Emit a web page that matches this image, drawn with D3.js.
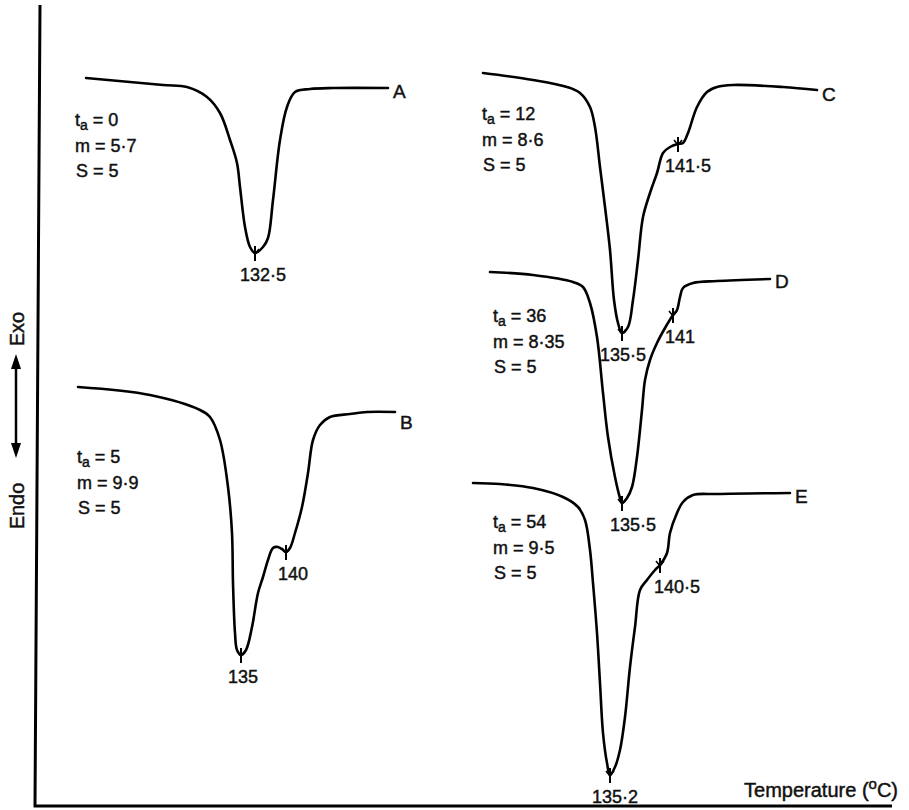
<!DOCTYPE html>
<html>
<head>
<meta charset="utf-8">
<script src="https://cdn.jsdelivr.net/npm/d3@7"></script>
<style>
  html, body { margin: 0; padding: 0; background: #fff; }
  svg text { font-family: "Liberation Sans", Arial, sans-serif; fill: #111; stroke: #111; stroke-width: 0.45px; }
</style>
</head>
<body>
<div id="d3"></div>
<script>
// DSC traces (arbitrary chart units, signal up = exo)
const curveIds = ["A", "B", "C", "D", "E"];

const posA = [51, 128, 152, 172, 185, 195, 202, 205, 210, 215, 220, 228, 233, 238, 245, 252, 260, 275, 298, 353];
const sigA = [728, 721, 719, 709, 693, 666, 643, 619, 579, 559, 553, 559, 568, 606, 666, 699, 714, 717, 718, 718];

const posB = [43, 115, 165, 175, 185, 193, 197, 198, 200, 202, 206, 211, 217, 223, 228, 233, 238, 243, 248, 251, 255, 260, 267, 273, 278, 285, 295, 315, 332, 360];
const sigB = [419, 411, 396, 389, 366, 319, 273, 223, 173, 156, 151, 156, 179, 213, 229, 246, 258, 259, 256, 254, 258, 273, 299, 333, 366, 381, 389, 392, 394, 394];

const posC = [448, 498, 532, 545, 555, 560, 565, 570, 575, 579, 583, 587, 593, 598, 603, 608, 615, 622, 628, 635, 643, 648, 653, 662, 672, 682, 698, 748, 782];
const sigC = [733, 726, 719, 713, 699, 679, 639, 599, 556, 506, 483, 473, 479, 506, 546, 589, 613, 633, 653, 659, 662, 663, 673, 699, 714, 719, 721, 719, 716];

const posD = [455, 498, 538, 548, 555, 562, 568, 573, 580, 585, 587, 592, 597, 602, 607, 610, 615, 622, 630, 638, 642, 645, 648, 658, 682, 735];
const sigD = [534, 531, 524, 519, 503, 469, 413, 369, 329, 308, 303, 308, 319, 349, 396, 426, 446, 463, 478, 491, 496, 509, 518, 523, 525, 527];

const posE = [438, 465, 498, 528, 543, 550, 555, 558, 562, 565, 568, 572, 575, 580, 585, 590, 595, 600, 605, 612, 620, 625, 632, 635, 642, 648, 658, 682, 755];
const sigE = [323, 322, 318, 309, 299, 286, 256, 223, 173, 123, 73, 43, 31, 39, 56, 89, 139, 179, 216, 226, 236, 241, 253, 273, 293, 304, 311, 312, 313];

// run conditions
const annealTime = ["0", "5", "12", "36", "54"];
const mValues = ["5·7", "9·9", "8·6", "8·35", "9·5"];
const sValues = ["5", "5", "5", "5", "5"];

// marked peak / shoulder temperatures
const peakCurve = ["A", "B", "B", "C", "C", "D", "D", "E", "E"];
const peakLabel = ["132·5", "135", "140", "135·5", "141·5", "135·5", "141", "135·2", "140·5"];
const peakPos = [220, 206, 251, 587, 643, 587, 638, 575, 625];
const peakSig = [553, 151, 254, 473, 662, 303, 491, 31, 241];

const width = 909;
const height = 810;

// layout: label nudges (px) and annotation block anchors (chart units)
const peakNudge = [8, 2, 7, 1, 10, 11, 7, 5, 17];
const blockAnchor = { A: [40, 680], B: [42, 343], C: [447, 686], D: [458, 484], E: [458, 278] };
const endNudge = { A: 10, B: 17, C: 11, D: 9, E: 10 };

const svg = d3.select("#d3").append("svg")
  .attr("width", width)
  .attr("height", height);

const x = d3.scaleLinear().domain([0, 860]).range([35, 895]);
const y = d3.scaleLinear().domain([0, 800]).range([806, 6]);

// axes frame (the original vertical axis leans slightly)
svg.append("path")
  .attr("d", d3.line()([[x(5), y(801)], [x(0), y(0)], [x(857), y(0)]]))
  .attr("fill", "none")
  .attr("stroke", "#000")
  .attr("stroke-width", 3);

const series = {
  A: { pos: posA, sig: sigA },
  B: { pos: posB, sig: sigB },
  C: { pos: posC, sig: sigC },
  D: { pos: posD, sig: sigD },
  E: { pos: posE, sig: sigE }
};

const line = d3.line()
  .x(d => x(d[0]))
  .y(d => y(d[1]))
  .curve(d3.curveCatmullRom.alpha(0.5));

curveIds.forEach((id, i) => {
  const s = series[id];
  const pts = s.pos.map((p, k) => [p, s.sig[k]]);

  svg.append("path")
    .attr("d", line(pts))
    .attr("fill", "none")
    .attr("stroke", "#000")
    .attr("stroke-width", 2.6)
    .attr("stroke-linejoin", "round")
    .attr("stroke-linecap", "round");

  const last = pts[pts.length - 1];
  svg.append("text")
    .attr("x", x(last[0]) + 5)
    .attr("y", y(last[1]) + endNudge[id])
    .attr("font-size", 19)
    .text(id);

  // run condition block
  const a = blockAnchor[id];
  const bx = x(a[0]), by = y(a[1]);
  const t = svg.append("text")
    .attr("x", bx)
    .attr("y", by)
    .attr("font-size", 18);
  t.append("tspan").text("t");
  t.append("tspan").attr("font-size", 14).attr("dy", 4).text("a");
  t.append("tspan").attr("dy", -4).text(" = " + annealTime[i]);

  svg.append("text")
    .attr("x", bx)
    .attr("y", by + 26)
    .attr("font-size", 18)
    .text("m = " + mValues[i]);

  svg.append("text")
    .attr("x", bx + 1)
    .attr("y", by + 51)
    .attr("font-size", 18)
    .text("S = " + sValues[i]);
});

// peak marks
peakLabel.forEach((lab, i) => {
  const px = x(peakPos[i]);
  const py = y(peakSig[i]);
  svg.append("line")
    .attr("x1", px).attr("x2", px)
    .attr("y1", py - 7).attr("y2", py + 8)
    .attr("stroke", "#000")
    .attr("stroke-width", 2);
  svg.append("path")
    .attr("d", `M${px - 4},${py - 4}L${px},${py + 1}L${px + 4},${py - 4}`)
    .attr("fill", "none")
    .attr("stroke", "#000")
    .attr("stroke-width", 1.6);
  svg.append("text")
    .attr("x", px + peakNudge[i])
    .attr("y", py + 28)
    .attr("text-anchor", "middle")
    .attr("font-size", 18)
    .text(lab);
});

// x axis title
const tt = svg.append("text")
  .attr("x", 898)
  .attr("y", 797)
  .attr("text-anchor", "end")
  .attr("font-size", 20)
  .text("Temperature (");
tt.append("tspan").attr("font-size", 15).attr("dy", -8).text("o");
tt.append("tspan").attr("dy", 8).text("C)");

// Endo <-> Exo
svg.append("text")
  .attr("transform", "translate(24,329) rotate(-90)")
  .attr("text-anchor", "middle")
  .attr("font-size", 20)
  .text("Exo");
svg.append("text")
  .attr("transform", "translate(24,506) rotate(-90)")
  .attr("text-anchor", "middle")
  .attr("font-size", 20)
  .text("Endo");

svg.append("line")
  .attr("x1", 16).attr("x2", 16)
  .attr("y1", 364).attr("y2", 448)
  .attr("stroke", "#000")
  .attr("stroke-width", 2.5);
svg.append("path")
  .attr("d", "M16,354L11,369L21,369Z M16,458L11,443L21,443Z")
  .attr("fill", "#000");
</script>
</body>
</html>
